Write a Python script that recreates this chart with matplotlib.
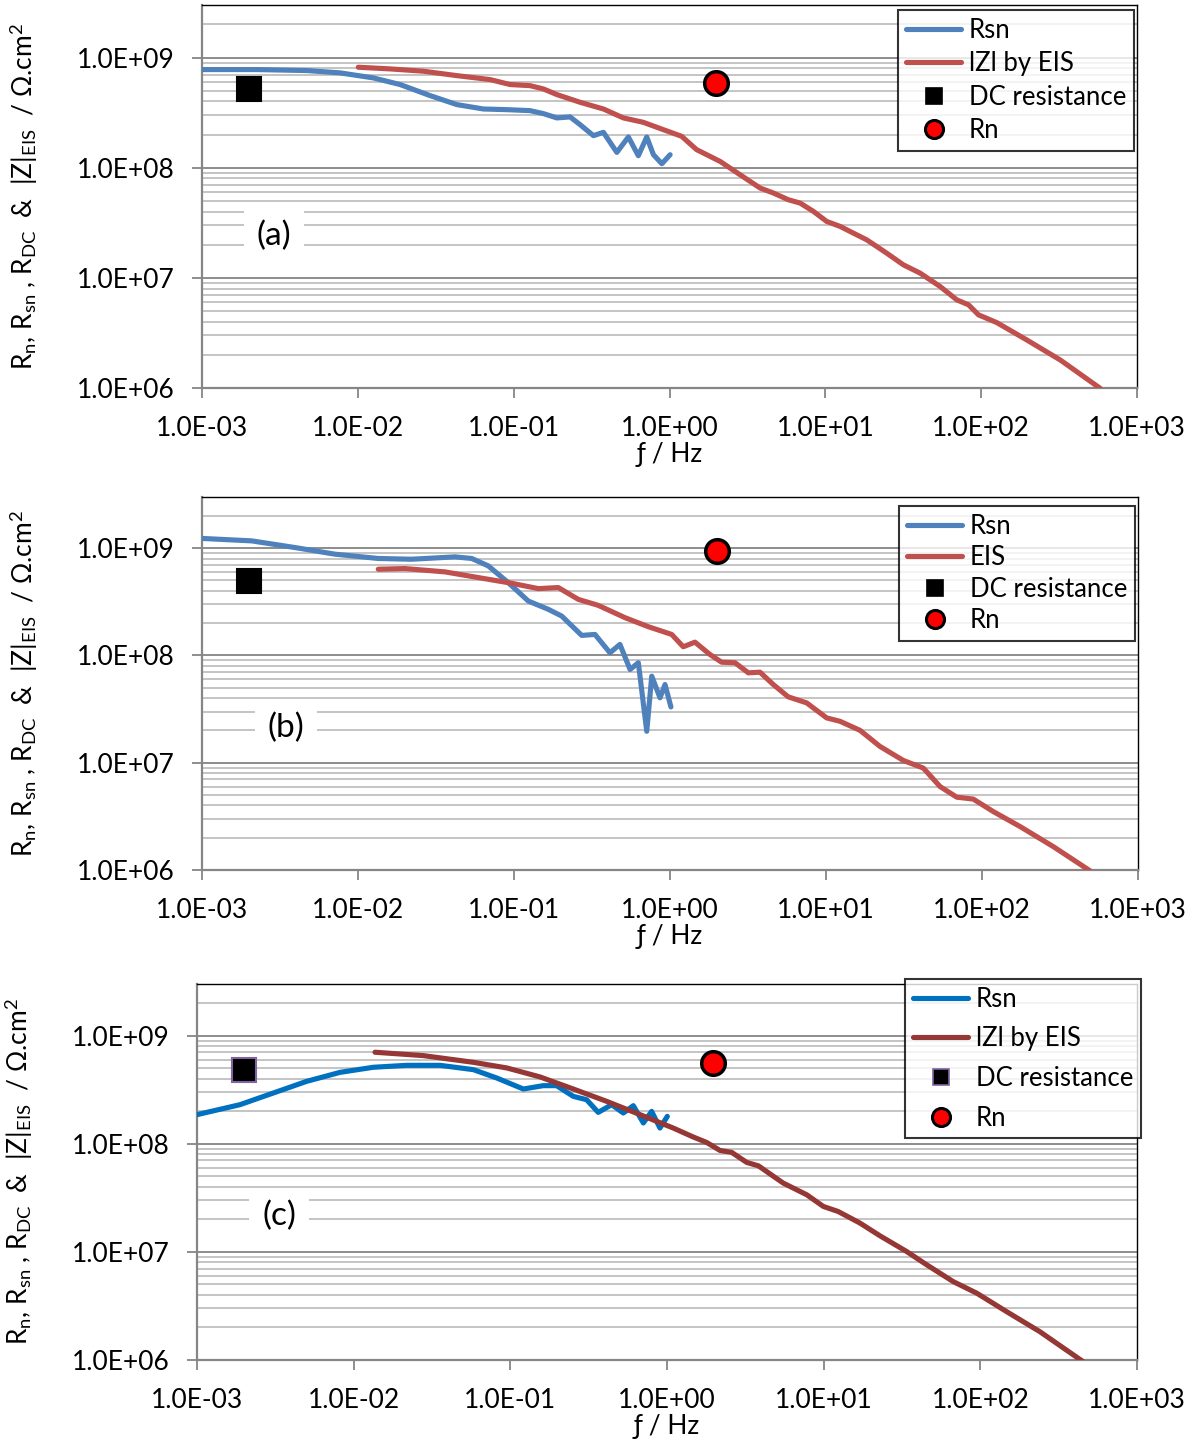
"""Rn / Rsn / DC resistance / |Z| vs frequency, three coating panels (a)-(c)."""

import numpy as np
import matplotlib.pyplot as plt
from matplotlib.lines import Line2D
from matplotlib.ticker import FixedLocator, NullLocator, NullFormatter

plt.rcParams['font.family'] = ['Lato', 'DejaVu Sans']
plt.rcParams['mathtext.fontset'] = 'custom'
plt.rcParams['mathtext.rm'] = 'Lato'
plt.rcParams['mathtext.it'] = 'Lato:italic'

# ---- data (log10 f [Hz], log10 R [ohm.cm2]) ----
a_rsn_logf = [-3.0, -2.649, -2.328, -2.114, -1.90, -1.729, -1.537, -1.365, -1.194, -1.044, -0.895, -0.809,
              -0.723, -0.638, -0.574, -0.488, -0.424, -0.338, -0.264, -0.200, -0.146, -0.103, -0.049, 0.004]
a_rsn_logr = [8.891, 8.891, 8.882, 8.861, 8.815, 8.755, 8.655, 8.573, 8.533, 8.527, 8.518, 8.491,
              8.452, 8.461, 8.391, 8.291, 8.321, 8.139, 8.279, 8.109, 8.279, 8.118, 8.036, 8.118]
a_eis_logf = [-1.997, -1.793, -1.579, -1.365, -1.151, -1.023, -0.895, -0.809, -0.723, -0.574, -0.424, -0.296,
              -0.168, -0.039, 0.078, 0.174, 0.325, 0.453, 0.582, 0.667, 0.763, 0.838, 0.924, 1.009, 1.095,
              1.180, 1.266, 1.394, 1.501, 1.608, 1.737, 1.844, 1.919, 1.983, 2.100, 2.293, 2.507, 2.764]
a_eis_logr = [8.912, 8.897, 8.876, 8.836, 8.80, 8.755, 8.745, 8.715, 8.664, 8.594, 8.533, 8.452,
              8.412, 8.345, 8.285, 8.164, 8.057, 7.936, 7.815, 7.770, 7.709, 7.679, 7.603, 7.512, 7.467,
              7.406, 7.345, 7.224, 7.118, 7.043, 6.921, 6.80, 6.755, 6.664, 6.594, 6.436, 6.255, 5.997]

b_rsn_logf = [-3.0, -2.681, -2.404, -2.147, -1.870, -1.656, -1.378, -1.271, -1.165, -1.037, -0.908, -0.780,
              -0.694, -0.566, -0.481, -0.385, -0.321, -0.256, -0.203, -0.149, -0.117, -0.064, -0.032, 0.006]
b_rsn_logr = [9.091, 9.068, 9.006, 8.944, 8.904, 8.897, 8.919, 8.904, 8.835, 8.679, 8.507, 8.430,
              8.367, 8.187, 8.196, 8.025, 8.103, 7.869, 7.932, 7.293, 7.807, 7.605, 7.729, 7.520]
b_eis_logf = [-1.870, -1.699, -1.442, -1.229, -1.015, -0.844, -0.716, -0.588, -0.460, -0.288, -0.139, 0.011,
              0.085, 0.160, 0.256, 0.331, 0.417, 0.502, 0.577, 0.662, 0.758, 0.876, 1.004, 1.090, 1.218,
              1.346, 1.496, 1.624, 1.731, 1.838, 1.944, 2.072, 2.244, 2.457, 2.692]
b_eis_logr = [8.804, 8.810, 8.779, 8.726, 8.673, 8.623, 8.633, 8.523, 8.467, 8.352, 8.268, 8.196,
              8.081, 8.124, 8.009, 7.937, 7.932, 7.838, 7.844, 7.729, 7.614, 7.558, 7.418, 7.386, 7.302,
              7.152, 7.021, 6.950, 6.778, 6.679, 6.661, 6.545, 6.405, 6.218, 5.993]

c_rsn_logf = [-3.0, -2.726, -2.513, -2.300, -2.087, -1.875, -1.662, -1.449, -1.236, -1.087, -0.917, -0.790,
              -0.705, -0.598, -0.513, -0.439, -0.353, -0.279, -0.215, -0.151, -0.098, -0.045, 0.002]
c_rsn_logr = [8.269, 8.361, 8.469, 8.577, 8.660, 8.707, 8.725, 8.725, 8.685, 8.608, 8.506, 8.537,
              8.537, 8.438, 8.407, 8.290, 8.361, 8.284, 8.352, 8.192, 8.299, 8.145, 8.253]
c_eis_logf = [-1.864, -1.556, -1.236, -1.023, -0.811, -0.598, -0.385, -0.172, 0.040, 0.168, 0.253, 0.338,
              0.413, 0.509, 0.583, 0.742, 0.892, 0.998, 1.093, 1.232, 1.360, 1.530, 1.658, 1.827, 1.977,
              2.168, 2.380, 2.657]
c_eis_logr = [8.846, 8.815, 8.753, 8.701, 8.618, 8.506, 8.392, 8.269, 8.145, 8.062, 8.012, 7.938,
              7.920, 7.827, 7.796, 7.636, 7.528, 7.420, 7.373, 7.266, 7.148, 7.003, 6.880, 6.725, 6.618,
              6.447, 6.262, 5.984]

dc_freq = [0.002, 0.002, 0.002]
dc_res = [5.2e8, 4.97e8, 4.84e8]
rn_freq = [2.0, 2.0, 1.97]
rn_res = [5.9e8, 9.4e8, 5.6e8]

panel_tags = ['(a)', '(b)', '(c)']
eis_labels = ['lZl by EIS', 'EIS', 'lZl by EIS']
x_ticks = [1e-3, 1e-2, 1e-1, 1e0, 1e1, 1e2, 1e3]
x_ticklabels = ['1.0E-03', '1.0E-02', '1.0E-01', '1.0E+00', '1.0E+01', '1.0E+02', '1.0E+03']
y_ticks = [1e6, 1e7, 1e8, 1e9]
y_ticklabels = ['1.0E+06', '1.0E+07', '1.0E+08', '1.0E+09']

# ---- layout / style ----
W, H = 1194, 1446
fig = plt.figure(figsize=(W / 100, H / 100), dpi=100)

# (left, right, top, bottom) in pixels
boxes = [(202, 1137, 5, 388), (202, 1138, 497, 870), (197, 1137, 984, 1360)]
legend_corner = [(1134, 10), (1135, 506), (1141, 979)]
legend_spacing = [0.33, 0.25, 0.57]
tag_pos = [(274, 236), (286, 728), (279, 1216)]
colors = [('#4F81BD', '#C0504D'), ('#4F81BD', '#C0504D'), ('#0070C0', '#953735')]
dc_edge = ['black', 'black', '#8064A2']

ylabel = (r'R$_\mathrm{n}$, R$_\mathrm{sn}$ , R$_\mathrm{DC}$  &  |Z|$_\mathrm{EIS}$  / Ω.cm$^\mathrm{2}$')

series = [
    (a_rsn_logf, a_rsn_logr, a_eis_logf, a_eis_logr),
    (b_rsn_logf, b_rsn_logr, b_eis_logf, b_eis_logr),
    (c_rsn_logf, c_rsn_logr, c_eis_logf, c_eis_logr),
]

minor_levels = [m * 10.0 ** e for e in range(6, 10) for m in range(2, 10)]
minor_levels = [v for v in minor_levels if v <= 3.01e9]

for i, (l, r, t, b) in enumerate(boxes):
    ax = fig.add_axes([l / W, 1 - b / H, (r - l) / W, (b - t) / H])
    ax.set_xscale('log')
    ax.set_yscale('log')
    ax.set_xlim(1e-3, 1e3)
    ax.set_ylim(1e6, 3e9)

    # gridlines like Excel: light minor, darker major
    for v in minor_levels:
        ax.axhline(v, color='#BFBFBF', lw=1.3, zorder=0)
    for v in y_ticks[1:]:
        ax.axhline(v, color='#8C8C8C', lw=1.4, zorder=0)

    rf, rr, ef, er = series[i]
    c_rsn, c_eis = colors[i]
    ax.plot(10 ** np.array(rf), 10 ** np.array(rr), color=c_rsn, lw=3.7,
            solid_joinstyle='round', solid_capstyle='round', zorder=3)
    ax.plot(10 ** np.array(ef), 10 ** np.array(er), color=c_eis, lw=3.7,
            solid_joinstyle='round', solid_capstyle='round', zorder=3)
    ax.plot(dc_freq[i], dc_res[i], 's', ms=17, mfc='black', mec=dc_edge[i], mew=1.5, zorder=4)
    ax.plot(rn_freq[i], rn_res[i], 'o', ms=17, mfc='red', mec='black', mew=2.5, zorder=4)

    ax.xaxis.set_major_locator(FixedLocator(x_ticks))
    ax.set_xticklabels(x_ticklabels)
    ax.yaxis.set_major_locator(FixedLocator(y_ticks))
    ax.set_yticklabels(y_ticklabels)
    ax.xaxis.set_minor_locator(NullLocator())
    ax.yaxis.set_minor_locator(NullLocator())
    ax.xaxis.set_minor_formatter(NullFormatter())
    ax.yaxis.set_minor_formatter(NullFormatter())
    ax.tick_params(axis='both', which='major', direction='out', length=7, width=1.3,
                   color='#868686', labelsize=19, pad=13)

    for side in ('left', 'bottom'):
        ax.spines[side].set_color('#868686')
        ax.spines[side].set_linewidth(1.6)
    for side in ('top', 'right'):
        ax.spines[side].set_color('black')
        ax.spines[side].set_linewidth(1.0)

    ax.set_xlabel('ƒ / Hz', fontsize=19, labelpad=1)
    ax.set_ylabel(ylabel, fontsize=19, labelpad=26)

    tx, ty = tag_pos[i]
    fig.text(tx / W, 1 - ty / H, panel_tags[i], fontsize=24, ha='center', va='center',
             bbox=dict(facecolor='white', edgecolor='none', pad=9), zorder=5)

    handles = [
        Line2D([], [], color=c_rsn, lw=3.7, solid_capstyle='round'),
        Line2D([], [], color=c_eis, lw=3.7, solid_capstyle='round'),
        Line2D([], [], ls='none', marker='s', ms=12, mfc='black', mec=dc_edge[i], mew=1.2),
        Line2D([], [], ls='none', marker='o', ms=13, mfc='red', mec='black', mew=2.2),
    ]
    lx, ly = legend_corner[i]
    leg = ax.legend(handles, ['Rsn', eis_labels[i], 'DC resistance', 'Rn'],
                    loc='upper right', bbox_to_anchor=(lx / W, 1 - ly / H),
                    bbox_transform=fig.transFigure, fontsize=18.5, frameon=True, fancybox=False,
                    handlelength=2.15, handletextpad=0.3, labelspacing=legend_spacing[i],
                    borderpad=0.3, borderaxespad=0)
    leg.get_frame().set_edgecolor('black')
    leg.get_frame().set_linewidth(1.5)
    leg.set_zorder(6)

fig.savefig('out.png', dpi=100)
